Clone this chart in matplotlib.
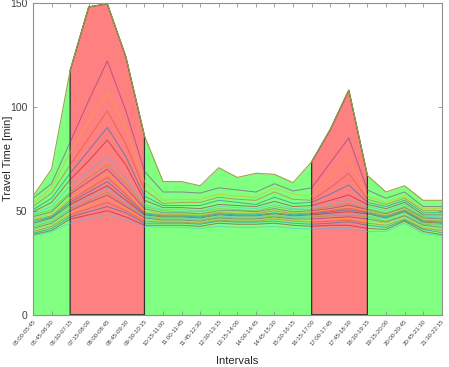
import numpy as np
import matplotlib
matplotlib.use('Agg')
import matplotlib.pyplot as plt

plt.rcParams['font.family'] = ['Liberation Sans', 'DejaVu Sans']

# Time intervals on the x axis
intervals = ['05:00-05:45', '05:45-06:30', '06:30-07:15', '07:15-08:00', '08:00-08:45',
             '08:45-09:30', '09:30-10:15', '10:15-11:00', '11:00-11:45', '11:45-12:30',
             '12:30-13:15', '13:15-14:00', '14:00-14:45', '14:45-15:30', '15:30-16:15',
             '16:15-17:00', '17:00-17:45', '17:45-18:30', '18:30-19:15', '19:15-20:00',
             '20:00-20:45', '20:45-21:30', '21:30-22:15']

# Upper envelope of travel time [min]
envelope = [57, 70, 117.5, 148, 149.5, 124, 86, 64, 64, 62, 70.7, 66, 68, 67.5, 63.5,
            73.5, 89, 108, 67, 59, 62, 55, 55]

# Peak periods (index ranges into intervals, inclusive)
morning_peak = (2, 6)
evening_peak = (15, 18)

# Individual travel-time curves [min]
route_01 = [56, 63, 83, 103, 122, 98, 69, 59, 59, 58.5, 61, 60, 59, 63, 59.5, 61, 73, 85, 60, 56, 59, 52, 52]
route_02 = [53.5, 61, 78, 93, 107, 90, 64, 55, 55.5, 55.5, 58, 57, 56.5, 61, 58, 57, 66, 75, 57, 54, 57, 51, 51]
route_03 = [52, 58.5, 72, 85, 98, 82, 60, 53.5, 54, 54, 56.5, 55.5, 55, 59, 55.5, 55, 61, 68, 55.5, 53, 56, 50, 50]
route_04 = [50.5, 56, 68, 79, 90, 76, 57, 52.5, 52.5, 52.5, 55, 54, 53, 56.5, 53.5, 54, 58, 62.4, 54, 52, 55, 49, 49]
route_05 = [49.5, 54, 65, 74, 84, 72, 55, 51.5, 51.5, 51, 53, 52.5, 52, 54.5, 52, 52.5, 55, 57.6, 53, 51, 54, 48, 48]
route_06 = [48.7, 52, 62, 69, 76, 66, 53, 50.5, 50.5, 50, 52, 51.5, 51, 53, 51, 51.5, 53, 55, 52, 50, 53, 47.5, 47]
route_07 = [47.9, 50.5, 59, 66, 72, 63, 52, 50, 49.5, 49.5, 51, 50.5, 50, 52, 50.5, 50.5, 52, 53.5, 51, 49, 52, 47, 46.5]
route_08 = [47.1, 49.5, 58, 64, 70, 61, 51, 49, 49, 48.5, 50, 50, 49.5, 51, 49.5, 50, 51, 52.7, 50.5, 48.5, 51.5, 46.5, 46]
route_09 = [46.3, 48.5, 56, 62, 68, 59.5, 50, 48.5, 48.5, 48, 49.5, 49, 49, 50.5, 49, 49.5, 50.5, 51.9, 50, 48, 51, 46, 45.5]
route_10 = [45.5, 47.5, 55, 60.5, 66, 58, 49, 48, 48, 47.5, 49, 48.5, 48.5, 50, 48.5, 49, 50, 51.2, 49.5, 47.5, 50.5, 45.5, 45]
route_11 = [44.7, 47, 54, 59, 64, 56.5, 48.5, 47.5, 47.5, 47, 48.5, 48, 48, 49, 48, 48.5, 49.5, 50.4, 49, 47, 50, 45, 44.5]
route_12 = [43.9, 46.5, 53, 57.5, 62, 55, 48, 47, 47, 46.5, 48, 47.5, 47.5, 48.5, 47.5, 48, 48.8, 49.5, 48.5, 46.5, 49.5, 44.5, 44]
route_13 = [43.1, 46, 52, 56.5, 61, 54, 47.5, 46.5, 46.5, 46, 47.5, 47, 47, 48, 47, 47.5, 48, 48.7, 47.5, 46, 49, 44, 43.5]
route_14 = [42.3, 45, 51, 55, 59, 53, 47, 46, 46, 45.5, 47, 46.5, 46.5, 47.5, 46.5, 47, 47.5, 47.9, 47, 45, 48, 43.5, 43]
route_15 = [41.5, 44, 50, 54, 57.5, 52, 46.5, 45.5, 45.5, 45, 46.5, 46, 46, 47, 46, 46, 46.5, 47.1, 46, 44.5, 47.5, 43, 42]
route_16 = [40.7, 43.5, 49, 52.5, 56, 51, 46, 45, 45, 44.5, 46, 45.5, 45.5, 46.5, 45.5, 45.5, 46, 46.3, 45, 44, 47, 42, 41]
route_17 = [39.9, 42.5, 48, 51, 54, 50, 45, 44.5, 44.5, 44, 45.5, 45, 45, 46, 45, 44.5, 45, 45.5, 44, 43, 46, 41.5, 40.5]
route_18 = [39.1, 41.5, 47, 49.5, 52, 49, 44, 44, 44, 43.5, 45, 44.5, 44.5, 45, 44, 43.5, 44, 44.7, 43, 42, 45.5, 41, 39.5]
route_19 = [38.5, 40.5, 46, 48, 50, 47, 43, 43, 43, 42.5, 44, 43.5, 43.5, 44, 43, 42.5, 43, 43, 41.5, 41, 45, 40, 38.5]
route_20 = [37.8, 40, 44, 46, 48, 45.5, 42.5, 42, 42, 41.5, 42.5, 42, 42, 42.5, 41.5, 41.2, 41.5, 41.5, 40, 40, 44, 39, 37.8]

routes = [route_01, route_02, route_03, route_04, route_05, route_06, route_07, route_08, route_09, route_10,
          route_11, route_12, route_13, route_14, route_15, route_16, route_17, route_18, route_19, route_20]

# MATLAB-like colour order
line_colors = ['#7E2F8E', '#EDB120', '#D95319', '#0072BD', '#A2142F', '#4DBEEE', '#77AC30']

x = np.arange(1, len(intervals) + 1)
env = np.array(envelope)

fig = plt.figure(figsize=(4.49, 3.67), dpi=100)
ax = fig.add_axes([0.0735, 0.1425, 0.9102, 0.850])

# green off-peak area under the envelope
ax.fill_between(x, 0, env, color='#80FF80', linewidth=0, zorder=1)

# red peak-period areas
for a, b in (morning_peak, evening_peak):
    xs = np.concatenate([[x[a]], x[a:b + 1], [x[b]]])
    ys = np.concatenate([[0], env[a:b + 1], [0]])
    ax.fill(xs, ys, facecolor='#FF8080', edgecolor='#333333', linewidth=0.9, zorder=2)

# travel time curves
for i, r in enumerate(routes):
    ax.plot(x, r, color=line_colors[i % len(line_colors)], linewidth=0.7, alpha=0.55, zorder=3)

# envelope edge
ax.plot(x, env, color='#9aa545', linewidth=0.8, zorder=4)

ax.set_xlim(1, len(intervals))
ax.set_ylim(0, 150)
ax.set_yticks([0, 50, 100, 150])
ax.set_xticks(x)
ax.set_xticklabels(intervals, rotation=50, ha='right', rotation_mode='anchor', fontsize=4.3, color='#404040')
ax.tick_params(axis='y', labelsize=7.5, labelcolor='#404040', pad=4)
ax.tick_params(direction='in', length=3, width=0.6, color='#909090', top=True, right=True)
ax.tick_params(axis='x', pad=3)
for s in ax.spines.values():
    s.set_color('#909090')
    s.set_linewidth(0.8)
    s.set_zorder(5)

ax.set_xlabel('Intervals', fontsize=8, color='#262626', labelpad=7)
ax.set_ylabel('Travel Time [min]', fontsize=8, color='#262626')
ax.yaxis.set_label_coords(-0.048, 0.5)

fig.savefig('out.png', dpi=100)
